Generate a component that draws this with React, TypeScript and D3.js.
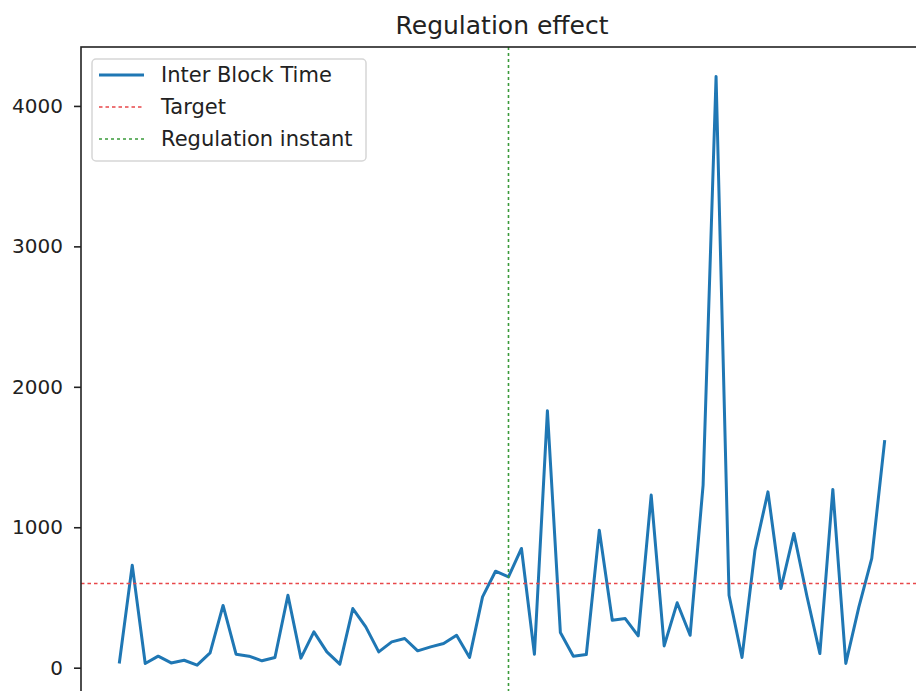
import React, { useEffect, useRef } from 'react';
import * as d3 from 'd3';

// inter block time per block
const interBlockTime = [
  30, 730, 30, 82, 34, 53, 18, 105, 443, 96,
  82, 49, 73, 516, 68, 255, 113, 25, 421, 291,
  113, 184, 208, 120, 148, 172, 231, 73, 504, 687,
  647, 849, 96, 1829, 250, 82, 94, 979, 338, 350,
  227, 1229, 155, 462, 231, 1300, 4210, 516, 73, 837,
  1252, 564, 956, 510, 101, 1269, 30, 430, 778, 1620,
];
const target = 600;
const regulationIndex = 30;
const yTicks = [0, 1000, 2000, 3000, 4000];
const legendLabels = ['Inter Block Time', 'Target', 'Regulation instant'];

const W = 916, H = 691;
const FONT = '"DejaVu Sans", sans-serif';

const App = () => {
  const ref = useRef<SVGSVGElement | null>(null);

  useEffect(() => {
    const svg = d3.select(ref.current);
    svg.selectAll('*').remove();

    const margin = { top: 47, left: 81, right: 923, bottom: 694.6 };

    // matplotlib style 5% margins
    const n = interBlockTime.length;
    const xPad = (n - 1) * 0.05;
    const x = d3.scaleLinear().domain([-xPad, n - 1 + xPad]).range([margin.left, margin.right]);

    const yMin = d3.min(interBlockTime) as number;
    const yMax = d3.max(interBlockTime) as number;
    const yPad = (yMax - yMin) * 0.05;
    const y = d3.scaleLinear().domain([yMin - yPad, yMax + yPad]).range([margin.bottom, margin.top]);

    svg.append('rect').attr('width', W).attr('height', H).attr('fill', '#fff');

    // title
    svg.append('text')
      .attr('x', (margin.left + margin.right) / 2)
      .attr('y', 34)
      .attr('text-anchor', 'middle')
      .attr('font-family', FONT)
      .attr('font-size', 25)
      .attr('fill', '#222')
      .text('Regulation effect');

    svg.append('clipPath').attr('id', 'plotclip')
      .append('rect')
      .attr('x', margin.left).attr('y', margin.top)
      .attr('width', margin.right - margin.left).attr('height', margin.bottom - margin.top);

    const plot = svg.append('g').attr('clip-path', 'url(#plotclip)');

    const line = d3.line<number>()
      .x((d, i) => x(i))
      .y((d) => y(d));

    plot.append('path')
      .datum(interBlockTime)
      .attr('d', line)
      .attr('fill', 'none')
      .attr('stroke', '#1f77b4')
      .attr('stroke-width', 3)
      .attr('stroke-linejoin', 'round');

    // target line
    plot.append('line')
      .attr('x1', margin.left).attr('x2', margin.right)
      .attr('y1', y(target)).attr('y2', y(target))
      .attr('stroke', '#e8474a')
      .attr('stroke-width', 1.6)
      .attr('stroke-dasharray', '3.5,3');

    // regulation instant
    plot.append('line')
      .attr('x1', x(regulationIndex)).attr('x2', x(regulationIndex))
      .attr('y1', margin.top).attr('y2', margin.bottom)
      .attr('stroke', '#3a9a3a')
      .attr('stroke-width', 1.6)
      .attr('stroke-dasharray', '3,3');

    // y axis
    const yAxis = svg.append('g')
      .attr('transform', `translate(${margin.left},0)`)
      .call(d3.axisLeft(y).tickValues(yTicks).tickSize(7).tickPadding(11).tickFormat(d3.format('d')));
    yAxis.select('.domain').remove();
    yAxis.selectAll('line').attr('stroke', '#222').attr('stroke-width', 1.6);
    yAxis.selectAll('text')
      .attr('font-family', FONT)
      .attr('font-size', 20)
      .attr('fill', '#222');

    // spines
    svg.append('rect')
      .attr('x', margin.left).attr('y', margin.top)
      .attr('width', margin.right - margin.left).attr('height', margin.bottom - margin.top)
      .attr('fill', 'none')
      .attr('stroke', '#222')
      .attr('stroke-width', 1.6);

    // legend
    const lg = svg.append('g');
    lg.append('rect')
      .attr('x', 92).attr('y', 59).attr('width', 274).attr('height', 102)
      .attr('rx', 4)
      .attr('fill', '#fff').attr('fill-opacity', 0.8)
      .attr('stroke', '#d6d6d6').attr('stroke-width', 1.5);

    const handles = [
      { color: '#1f77b4', width: 3, dash: null },
      { color: '#e8474a', width: 1.6, dash: '3.5,3' },
      { color: '#3a9a3a', width: 1.6, dash: '3,3' },
    ];
    legendLabels.forEach((label, i) => {
      const cy = 75 + i * 32;
      lg.append('line')
        .attr('x1', 99).attr('x2', 144).attr('y1', cy).attr('y2', cy)
        .attr('stroke', handles[i].color)
        .attr('stroke-width', handles[i].width)
        .attr('stroke-dasharray', handles[i].dash);
      lg.append('text')
        .attr('x', 161).attr('y', cy)
        .attr('dominant-baseline', 'central')
        .attr('font-family', FONT)
        .attr('font-size', 21)
        .attr('fill', '#222')
        .text(label);
    });
  }, []);

  return (
    <svg ref={ref} width={W} height={H}
      style={{ position: 'absolute', left: 0, top: 0, display: 'block' }} />
  );
};

export default App;
